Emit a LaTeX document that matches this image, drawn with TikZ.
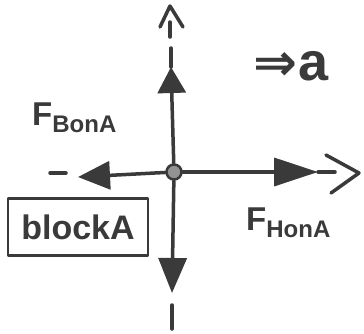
\documentclass[tikz,border=0pt]{standalone}
\usepackage{fontspec}
\setmainfont{Liberation Sans}
\newfontfamily\symfont{DejaVu Sans}
\usetikzlibrary{arrows.meta}
\definecolor{ink}{HTML}{3A3A3A}
\newcommand{\fsub}[2]{\fontsize{33}{33}\selectfont\bfseries #1\raisebox{-0.4ex}{\fontsize{24}{24}\selectfont #2}}
\begin{document}
\begin{tikzpicture}[x=1pt,y=-1pt,line cap=round,line join=round,
  stroke/.style={draw=ink,line width=3.5pt},
  force/.style={stroke,-{Triangle[length=#1,width=28pt]}},
  label/.style={text=ink,inner sep=0pt,anchor=west}]
\useasboundingbox (0,0) rectangle (364,333);
\fill[white] (0,0) rectangle (364,333);
% centre point
\node[circle,draw=ink,fill=ink!55,line width=2.5pt,minimum size=15pt,inner sep=0pt] (c) at (174,172) {};
% coordinates
\coordinate (uptip) at (171,67);
\coordinate (uptop) at (171,48);
\coordinate (dntip) at (172,293);
\coordinate (lftip) at (78,177);
\coordinate (rttip) at (318,172);
\coordinate (rtend) at (335,172);
% forces
\draw[force=26pt] (c) -- (uptip);
\draw[stroke] (uptip) -- (uptop);
\draw[force=35pt] (c) -- (dntip);
\draw[force=32pt] (c) -- (lftip);
\draw[force=44pt] (c) -- (rttip);
\draw[stroke] (rttip) -- (rtend);
% axis marks
\draw[stroke] (160,27) -- (170,6) -- (183,27);
\draw[stroke] (170,22) -- (170,37);
\draw[stroke] (326,155) -- (359,173) -- (331,193);
\draw[stroke] (50,173) -- (66,173);
\draw[stroke] (172,305) -- (172,329);
% labels
\node[label] (fb) at (32,118) {\fsub{F}{BonA}};
\node[label] (fh) at (246,223) {\fsub{F}{HonA}};
\node[label] (acc) at (253,66) {\resizebox{44pt}{28pt}{\symfont\bfseries ⇒}\,{\fontsize{54}{54}\selectfont\bfseries a}};
\node[draw=ink,line width=2.5pt,text=ink,minimum width=140pt,minimum height=57pt,inner sep=0pt] (blk) at (78,227) {\fontsize{34}{34}\selectfont\bfseries blockA};
\end{tikzpicture}
\end{document}
